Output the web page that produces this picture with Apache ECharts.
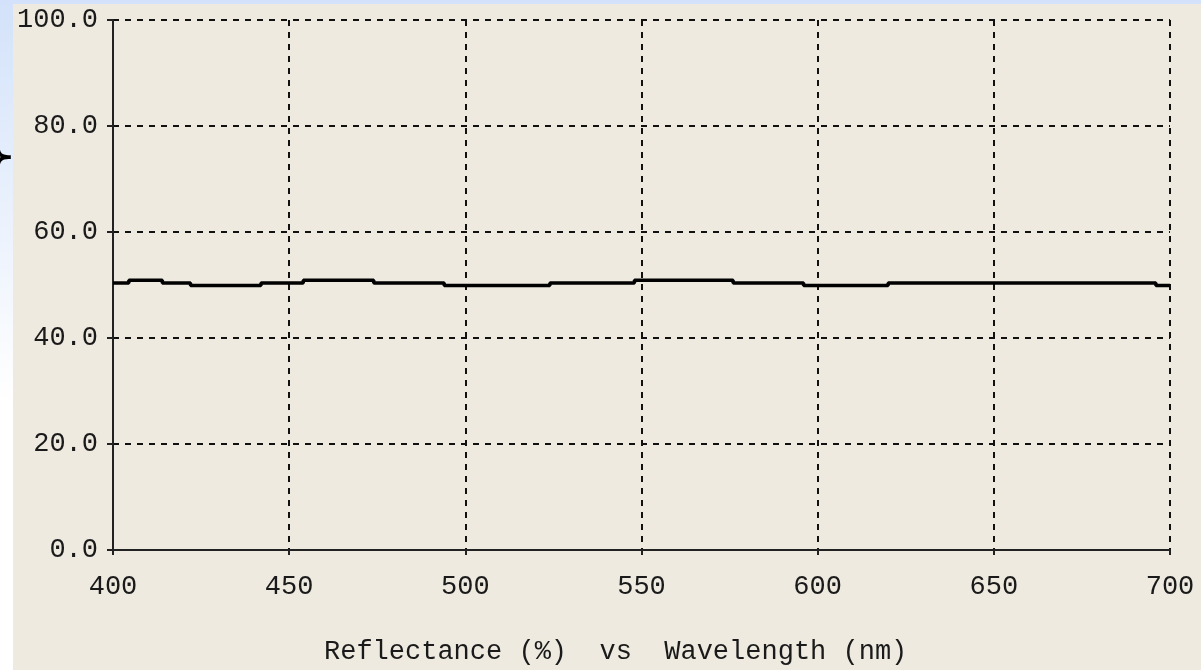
<!DOCTYPE html>
<html>
<head>
<meta charset="utf-8">
<script src="https://cdn.jsdelivr.net/npm/echarts@6/dist/echarts.min.js"></script>
<style>
html,body{margin:0;padding:0;width:1201px;height:670px;overflow:hidden;}
#c{width:1201px;height:670px;}
</style>
</head>
<body>
<div id="c"></div>
<script>
// Data (stepped reflectance trace)
var wavelengths = [400, 404.5, 414, 422, 442, 454, 474, 494, 524, 548, 576, 596, 620, 696, 700];
var reflectance = [50.4, 50.9, 50.4, 49.9, 50.4, 50.9, 50.4, 49.9, 50.4, 50.9, 50.4, 49.9, 50.4, 49.9, 49.9];
var yTicks = [0, 20, 40, 60, 80, 100];
var xTicks = [400, 450, 500, 550, 600, 650, 700];
var chartTitle = 'Reflectance (%)  vs  Wavelength (nm)';

var points = wavelengths.map(function (w, i) { return [w, reflectance[i]]; });
var FONT = '"Liberation Mono", "DejaVu Sans Mono", monospace';

var chart = echarts.init(document.getElementById('c'), null, {renderer: 'canvas'});
chart.setOption({
  animation: false,
  backgroundColor: 'transparent',
  graphic: [
    {type: 'rect', z: -10, shape: {x: 0, y: 0, width: 1201, height: 670},
     style: {fill: new echarts.graphic.LinearGradient(0, 0, 0, 1, [
       {offset: 0, color: '#d3e2fa'}, {offset: 0.6, color: '#ffffff'}, {offset: 1, color: '#ffffff'}])}},
    {type: 'text', z: -9, x: -27, y: 124,
     style: {text: '}', font: '74px "DejaVu Serif", serif', fill: '#000'}},
    {type: 'rect', z: -8, shape: {x: 13, y: 4, width: 1188, height: 666},
     style: {fill: '#eeeae0'}}
  ],
  title: {
    text: chartTitle,
    left: 319,
    top: 633,
    textStyle: {fontFamily: FONT, fontSize: 27, fontWeight: 'normal', color: '#1a1a1a'}
  },
  grid: {left: 113, top: 20, right: 31, bottom: 120, containLabel: false},
  xAxis: {
    type: 'value',
    min: xTicks[0],
    max: xTicks[xTicks.length - 1],
    interval: 50,
    axisLine: {show: true, lineStyle: {color: '#222', width: 2}},
    axisTick: {show: true, length: 5, lineStyle: {color: '#222', width: 2}},
    axisLabel: {margin: 23, fontFamily: FONT, fontSize: 27, color: '#1a1a1a'},
    splitLine: {show: true, lineStyle: {color: '#111', width: 2, type: [6, 6]}}
  },
  yAxis: {
    type: 'value',
    min: yTicks[0],
    max: yTicks[yTicks.length - 1],
    interval: 20,
    axisLine: {show: true, lineStyle: {color: '#222', width: 2}},
    axisTick: {show: true, length: 6, lineStyle: {color: '#222', width: 2}},
    axisLabel: {margin: 15, padding: [5, 0, 0, 0], fontFamily: FONT, fontSize: 27, color: '#1a1a1a',
      formatter: function (v) { return v.toFixed(1); }},
    splitLine: {show: true, lineStyle: {color: '#111', width: 2, type: [6, 6]}}
  },
  series: [{
    type: 'line',
    step: 'end',
    data: points,
    showSymbol: false,
    symbol: 'none',
    lineStyle: {color: '#000', width: 3.5},
    z: 5
  }]
});
</script>
</body>
</html>
